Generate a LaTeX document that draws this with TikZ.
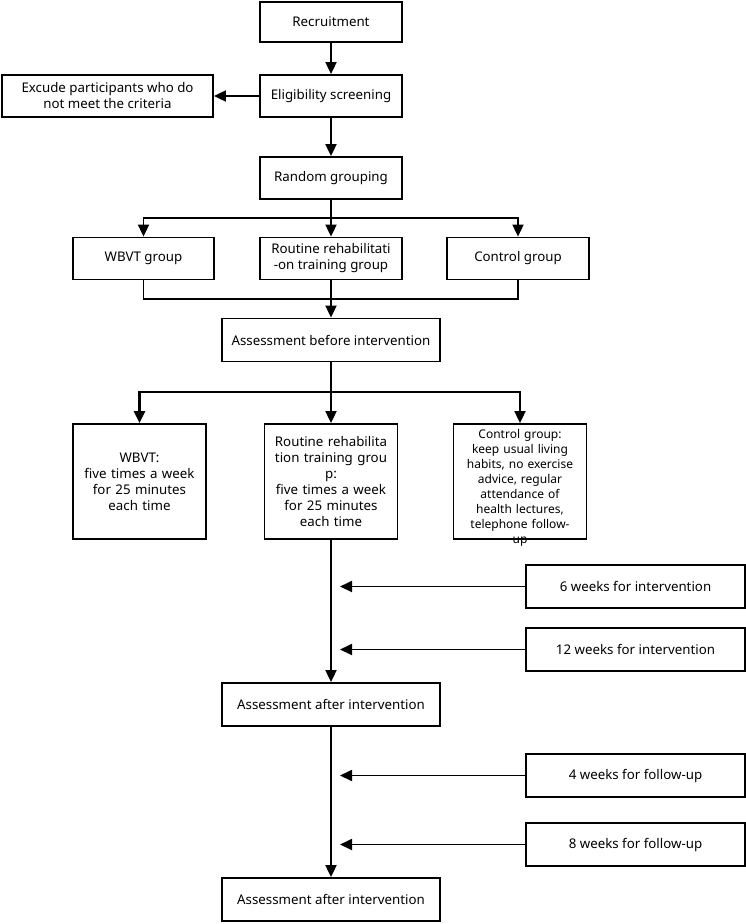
\documentclass[tikz,border=0pt]{standalone}
\usepackage{fontspec}
\setmainfont{Noto Sans}
\usetikzlibrary{arrows.meta,positioning}
\begin{document}
\begin{tikzpicture}[
            x=1pt,
            y=-1pt,
            box/.style={draw, line width=1.8pt, inner sep=0pt, align=center, font=\fontsize{13.3}{16}\selectfont},
            small box/.style={box, minimum width=142pt, minimum height=42pt},
            tall box/.style={box, minimum width=133pt, minimum height=115pt, text width=133pt},
            line/.style={line width=1.8pt},
            arr/.style={line width=1.8pt, -{Triangle[length=12pt,width=11pt]}},
        ]
        \useasboundingbox (0,0) rectangle (746,924);
        % TOP: recruitment and screening
        \node[small box, minimum height=40pt] (recr) at (331,22) {Recruitment};
        \node[small box] (elig) at (331,96) {Eligibility screening};
        \node[box, minimum width=211pt, minimum height=42pt] (excl) at (107.5,96) {Excude participants who do\\not meet the criteria};
        \node[small box] (rand) at (331,178) {Random grouping};
        \draw[arr] (recr) -- (elig);
        \draw[arr] (elig) -- (excl);
        \draw[arr] (rand |- elig.south) -- (rand);
        % Three groups
        \node[small box, minimum width=141pt] (wbvtg) at (143.5,258.5) {WBVT group};
        \node[small box] (routg) at (331,258.5) {Routine rehabilitati\\-on training group};
        \node[small box] (ctrlg) at (518,258.5) {Control group};
        \coordinate (split1) at (331,218);
        \draw[line] (rand) -- (split1);
        \draw[arr] (split1) -| (wbvtg);
        \draw[arr] (split1) -- (routg);
        \draw[arr] (split1) -| (ctrlg);
        \node[box, minimum width=218pt, minimum height=43pt] (assb) at (331,340) {Assessment before intervention};
        \coordinate (merge1) at (331,299);
        \draw[line] (wbvtg) |- (merge1);
        \draw[line] (ctrlg) |- (merge1);
        \draw[arr] (routg) -- (assb);
        % Interventions
        \node[tall box] (wbvti) at (139.5,481.5) {WBVT:\\five times a week\\for 25 minutes\\each time};
        \node[tall box] (routi) at (331,481.5) {Routine rehabilita\\tion training grou\\p:\\five times a week\\for 25 minutes\\each time};
        \node[tall box, font=\fontsize{12}{15}\selectfont, text height=14pt, text depth=101pt] (ctrli) at (520,481.5) {Control group:\\keep usual living\\habits, no exercise\\advice, regular\\attendance of\\health lectures,\\telephone follow-\\up};
        \coordinate (split2) at (331,392);
        \draw[line] (assb) -- (split2);
        \draw[arr, line width=2.6pt] (split2) -| (wbvti);
        \draw[arr] (split2) -- (routi);
        \draw[arr] (split2) -| (ctrli);
        % Timeline
        \node[box, minimum width=219pt, minimum height=43pt] (wk6) at (635.5,586.5) {6 weeks for intervention};
        \node[box, minimum width=219pt, minimum height=43pt] (wk12) at (635.5,649.5) {12 weeks for intervention};
        \node[box, minimum width=218pt, minimum height=43pt] (assa1) at (331,704.5) {Assessment after intervention};
        \node[box, minimum width=219pt, minimum height=43pt] (fu4) at (635.5,775.5) {4 weeks for follow-up};
        \node[box, minimum width=219pt, minimum height=43pt] (fu8) at (635.5,844.5) {8 weeks for follow-up};
        \node[box, minimum width=218pt, minimum height=43pt] (assa2) at (331,899.5) {Assessment after intervention};
        \draw[arr] (routi) -- (assa1);
        \draw[arr] (assa1) -- (assa2);
        \coordinate (wk6end) at (340,586.5);
        \coordinate (wk12end) at (340,649.5);
        \coordinate (fu4end) at (340,775.5);
        \coordinate (fu8end) at (340,844.5);
        \draw[arr] (wk6) -- (wk6end);
        \draw[arr] (wk12) -- (wk12end);
        \draw[arr] (fu4) -- (fu4end);
        \draw[arr] (fu8) -- (fu8end);
\end{tikzpicture}
\end{document}
